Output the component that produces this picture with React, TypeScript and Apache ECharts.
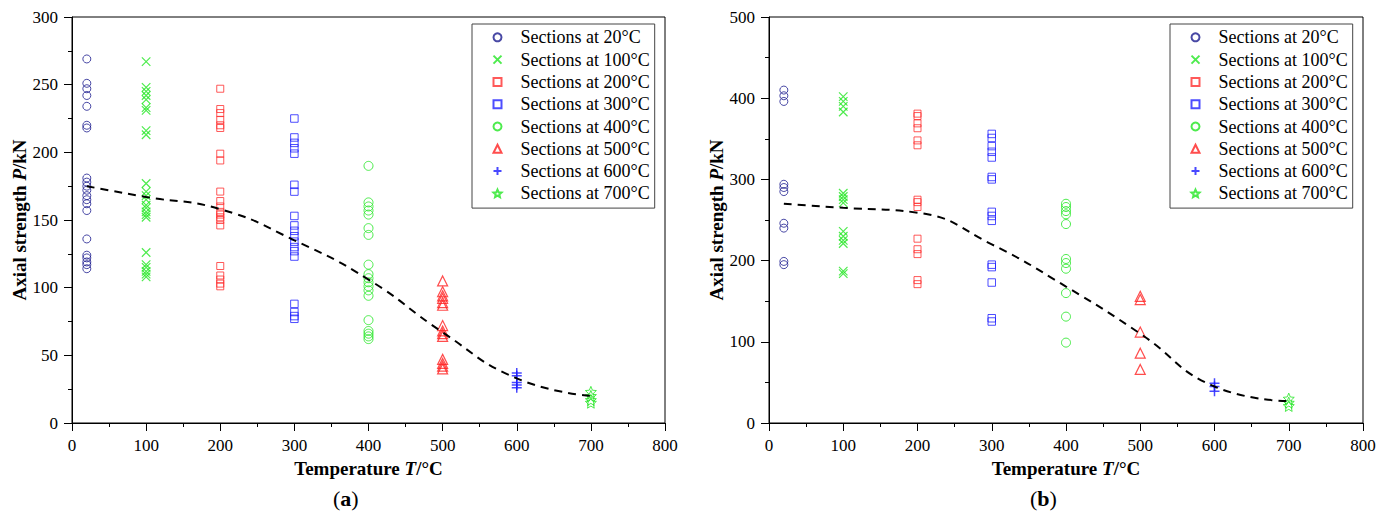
import React, { useEffect, useRef } from "react";
import * as echarts from "echarts";

// ---------- data ----------
const temperatures = [20, 100, 200, 300, 400, 500, 600, 700];
const seriesNames = temperatures.map((t) => `Sections at ${t}°C`);

// panel (a)
const a20 = [269, 251, 247, 242, 234, 220, 218, 181, 178, 175, 172, 168, 165, 162, 157, 136, 124, 122, 119, 117, 114];
const a100 = [267, 248, 245, 242, 239, 233, 231, 216, 213, 177, 171, 168, 165, 161, 159, 156, 154, 152, 126, 117, 115, 112, 110, 108];
const a200 = [247, 232, 229, 224, 220, 218, 199, 194, 171, 164, 160, 156, 154, 152, 150, 146, 116, 109, 106, 103, 101];
const a300 = [225, 211, 207, 203, 199, 176, 171, 153, 146, 142, 138, 134, 130, 127, 123, 88, 82, 79, 77];
const a400 = [190, 163, 160, 157, 154, 144, 139, 117, 110, 107, 104, 101, 98, 94, 76, 68, 66, 64, 62];
const a500 = [105, 97, 94, 92, 89, 87, 72, 68, 66, 64, 47, 44, 42, 40];
const a600 = [37, 35, 30, 28, 26];
const a700 = [23, 20, 17, 15];
const curveA = [175, 167, 158, 135, 106, 67, 33, 20];

// panel (b)
const b20 = [410, 403, 396, 294, 290, 285, 246, 240, 199, 195];
const b100 = [402, 396, 390, 383, 283, 279, 275, 271, 236, 230, 225, 221, 187, 184];
const b200 = [381, 378, 369, 363, 348, 342, 275, 272, 266, 227, 214, 208, 176, 171];
const b300 = [356, 351, 341, 334, 327, 303, 300, 260, 255, 249, 195, 192, 173, 129, 125];
const b400 = [270, 266, 261, 257, 245, 202, 197, 190, 160, 131, 99];
const b500 = [156, 152, 112, 86, 66];
const b600 = [49, 45, 39];
const b700 = [30, 25, 21];
const curveB = [270, 265, 259, 220, 168, 110, 45, 27];

const panelA = [a20, a100, a200, a300, a400, a500, a600, a700];
const panelB = [b20, b100, b200, b300, b400, b500, b600, b700];

// ---------- styles ----------
const FONT = "'Liberation Serif', 'Times New Roman', serif";

function starPath() {
  const pts: string[] = [];
  for (let k = 0; k < 10; k++) {
    const r = k % 2 === 0 ? 10 : 4.6;
    const ang = -Math.PI / 2 + (k * Math.PI) / 5;
    pts.push(`${(10 + r * Math.cos(ang)).toFixed(2)},${(10 + r * Math.sin(ang)).toFixed(2)}`);
  }
  return "path://M" + pts.join("L") + "Z";
}
const CROSS = "path://M0,0L10,10M0,10L10,0";
const PLUS = "path://M5,0L5,10M0,5L10,5";
const STAR = starPath();

const markerStyles = [
  { symbol: "circle", color: "#1c1c8e", size: 8, width: 1 },
  { symbol: CROSS, color: "#22e622", size: 8.5, width: 1.2 },
  { symbol: "rect", color: "#ff3030", size: 7, width: 1 },
  { symbol: "rect", color: "#2020ff", size: 7.5, width: 1 },
  { symbol: "circle", color: "#22e622", size: 9, width: 1 },
  { symbol: "triangle", color: "#ff2020", size: 10, width: 1.2 },
  { symbol: PLUS, color: "#1a1aff", size: 10, width: 1.5 },
  { symbol: STAR, color: "#22e622", size: 11, width: 1 },
];

const richName = {
  b: { fontFamily: FONT, fontSize: 19, fontWeight: "bold", color: "#000" },
  bi: { fontFamily: FONT, fontSize: 19, fontWeight: "bold", fontStyle: "italic", color: "#000" },
};

function xAxis(gridIndex: number) {
  return {
    type: "value",
    gridIndex,
    min: 0,
    max: 800,
    interval: 100,
    axisLine: { show: true, lineStyle: { color: "#000", width: 1 } },
    axisTick: { show: true, length: 8, lineStyle: { color: "#000", width: 1 } },
    minorTick: { show: true, splitNumber: 2, length: 4, lineStyle: { color: "#000", width: 1 } },
    axisLabel: { fontFamily: FONT, fontSize: 17, color: "#000", margin: 14 },
    splitLine: { show: false },
    minorSplitLine: { show: false },
    name: "{b|Temperature }{bi|T}{b|/°C}",
    nameLocation: "middle",
    nameGap: 31,
    nameTextStyle: { rich: richName },
  };
}

function yAxis(gridIndex: number, max: number, interval: number) {
  return {
    type: "value",
    gridIndex,
    min: 0,
    max,
    interval,
    axisLine: { show: true, lineStyle: { color: "#000", width: 1 } },
    axisTick: { show: true, length: 8, lineStyle: { color: "#000", width: 1 } },
    minorTick: { show: true, splitNumber: 2, length: 4, lineStyle: { color: "#000", width: 1 } },
    axisLabel: { fontFamily: FONT, fontSize: 17, color: "#000", margin: 14 },
    splitLine: { show: false },
    minorSplitLine: { show: false },
    name: "{b|Axial strength }{bi|P}{b|/kN}",
    nameLocation: "middle",
    nameRotate: 90,
    nameGap: 43,
    nameTextStyle: { rich: richName },
  };
}

function legend(left: number) {
  return {
    orient: "vertical",
    left,
    top: 24,
    data: seriesNames,
    selectedMode: false,
    itemWidth: 8,
    itemHeight: 8,
    itemGap: 4.3,
    padding: [4.3, 5, 5.7, 20.5],
    borderColor: "#444",
    borderWidth: 1,
    backgroundColor: "#fff",
    textStyle: { fontFamily: FONT, fontSize: 18, color: "#000", lineHeight: 18, padding: [0, 0, 0, 14] },
  };
}

function buildSeries(panel: number[][], curve: number[], idx: number) {
  const out: any[] = [];
  panel.forEach((vals, i) => {
    const st = markerStyles[i];
    out.push({
      type: "scatter",
      name: seriesNames[i],
      xAxisIndex: idx,
      yAxisIndex: idx,
      symbol: st.symbol,
      symbolSize: st.size,
      itemStyle: { color: "rgba(0,0,0,0)", borderColor: st.color, borderWidth: st.width },
      emphasis: { disabled: true },
      data: vals.map((v) => [temperatures[i], v]),
    });
  });
  out.push({
    type: "line",
    name: "fit",
    xAxisIndex: idx,
    yAxisIndex: idx,
    smooth: 0.5,
    symbol: "none",
    lineStyle: { color: "#000", width: 2, type: [8, 6] },
    emphasis: { disabled: true },
    z: 5,
    data: curve.map((v, i) => [temperatures[i], v]),
  });
  return out;
}

export default function App() {
  const ref = useRef<HTMLDivElement>(null);
  useEffect(() => {
    if (!ref.current) return;
    const chart = echarts.init(ref.current, undefined, { renderer: "svg" });
    chart.setOption({
      animation: false,
      backgroundColor: "#fff",
      grid: [
        { left: 72, top: 17, width: 593, height: 406, show: true, borderColor: "#000", borderWidth: 1, backgroundColor: "transparent" },
        { left: 769, top: 17, width: 594, height: 406, show: true, borderColor: "#000", borderWidth: 1, backgroundColor: "transparent" },
      ],
      xAxis: [xAxis(0), xAxis(1)],
      yAxis: [yAxis(0, 300, 50), yAxis(1, 500, 100)],
      legend: [legend(472), legend(1170)],
      tooltip: { show: false },
      series: [...buildSeries(panelA, curveA, 0), ...buildSeries(panelB, curveB, 1)],
      graphic: [
        {
          type: "text",
          left: 333,
          top: 487,
          style: {
            text: "{n|(}{b|a}{n|)}",
            rich: {
              n: { fontFamily: FONT, fontSize: 22, color: "#000" },
              b: { fontFamily: FONT, fontSize: 22, fontWeight: "bold", color: "#000" },
            },
          },
        },
        {
          type: "text",
          left: 1030,
          top: 487,
          style: {
            text: "{n|(}{b|b}{n|)}",
            rich: {
              n: { fontFamily: FONT, fontSize: 22, color: "#000" },
              b: { fontFamily: FONT, fontSize: 22, fontWeight: "bold", color: "#000" },
            },
          },
        },
      ],
    });
    return () => chart.dispose();
  }, []);
  return <div ref={ref} style={{ position: "absolute", left: 0, top: 0, width: 1392, height: 513 }} />;
}
